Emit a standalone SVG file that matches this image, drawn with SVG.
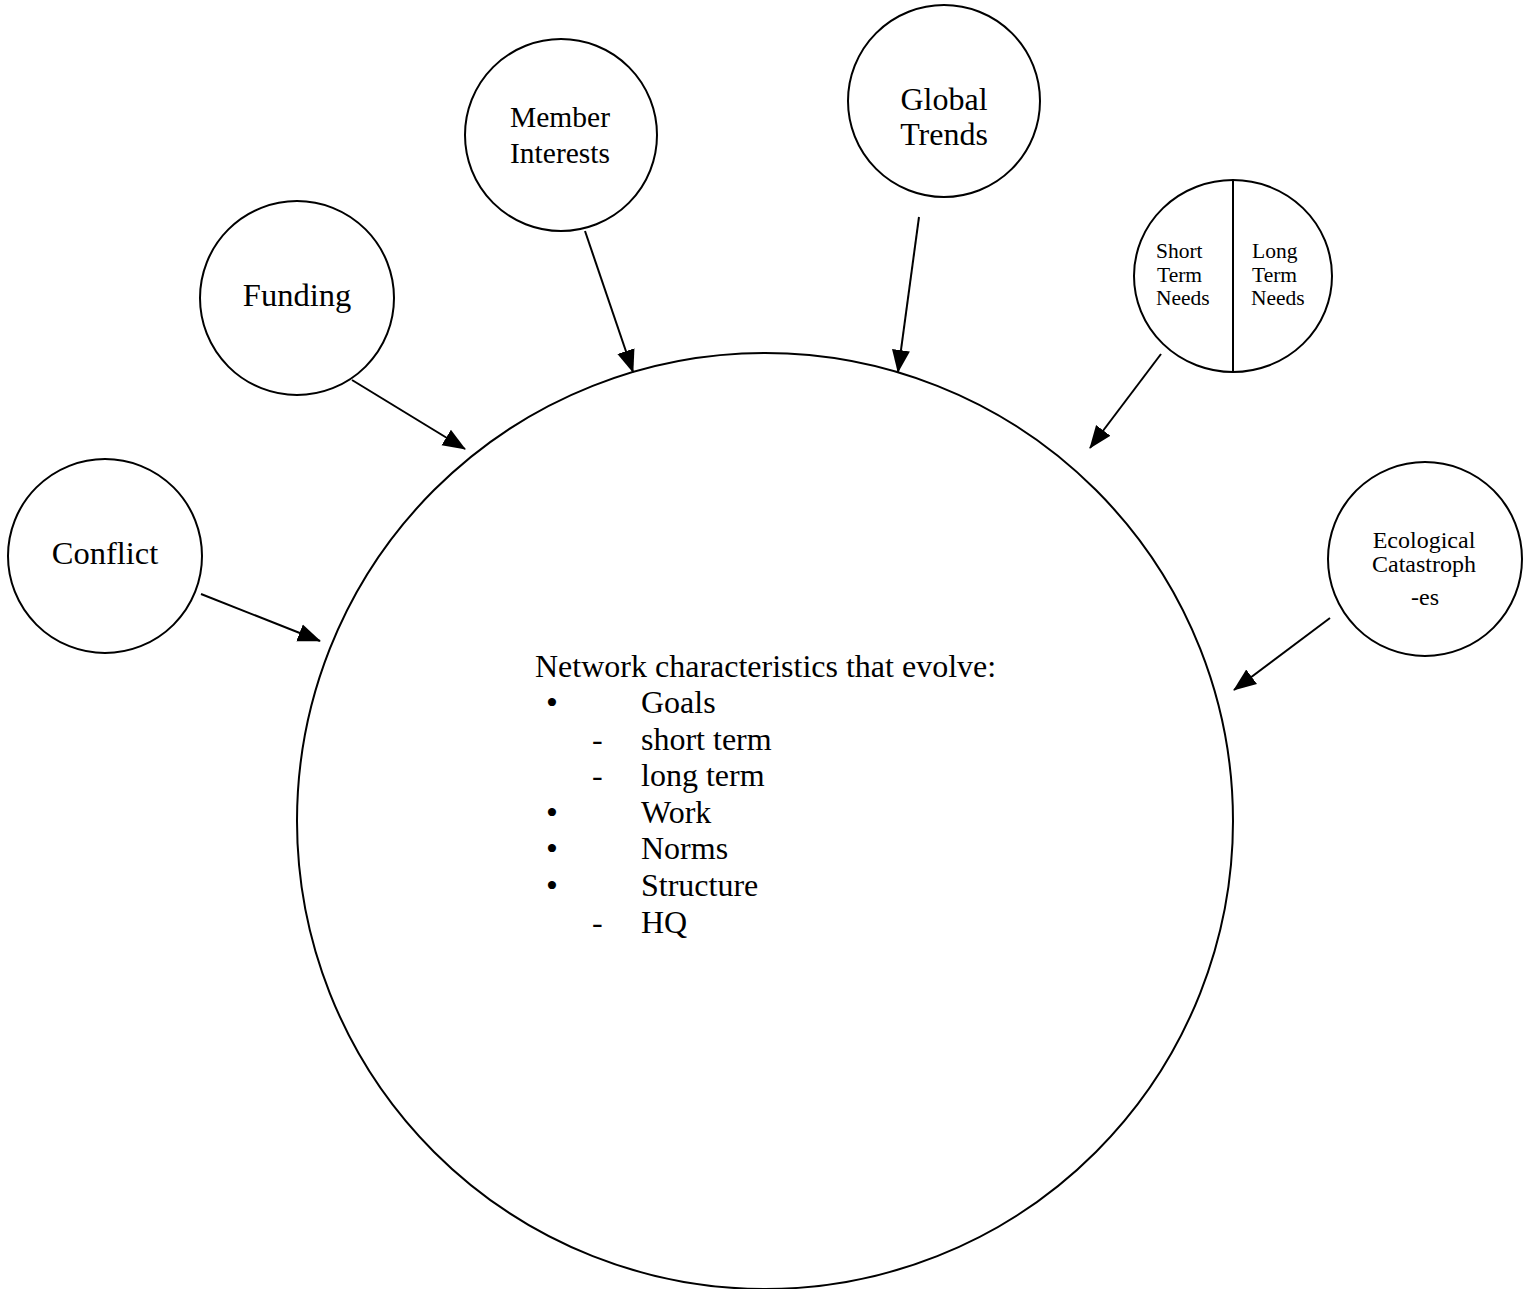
<svg xmlns="http://www.w3.org/2000/svg" width="1533" height="1289" viewBox="0 0 1533 1289">
<style>
  .node { fill: #fff; stroke: #000; stroke-width: 2; }
  .lbl { font-family: "Liberation Serif", "Times New Roman", serif; fill: #000; text-anchor: middle; }
  .lft { font-family: "Liberation Serif", "Times New Roman", serif; fill: #000; font-size: 21.5px; }
  .conn { stroke: #000; stroke-width: 2; fill: none; marker-end: url(#arrow); }
  .list { font-family: "Liberation Serif", "Times New Roman", serif; font-size: 32px; fill: #000; }
  .bul { font-family: "Liberation Serif", "Times New Roman", serif; font-size: 34px; fill: #000; text-anchor: middle; }
</style>
<defs>
  <marker id="arrow" markerUnits="userSpaceOnUse" markerWidth="24" markerHeight="20" viewBox="0 0 24 20" refX="22" refY="10" orient="auto">
    <path d="M0,1 L23,10 L0,19 Z" fill="#000"/>
  </marker>
</defs>
<rect width="1533" height="1289" fill="#fff"/>

<g id="network">
  <circle class="node" cx="765" cy="821" r="468"/>
  <text class="list" x="535" y="677">Network characteristics that evolve:</text>
  <text class="bul" x="552" y="713.5">•</text><text class="list" x="641" y="713">Goals</text>
  <text class="list" x="592" y="750">-</text><text class="list" x="641" y="750">short term</text>
  <text class="list" x="592" y="786">-</text><text class="list" x="641" y="786">long term</text>
  <text class="bul" x="552" y="823.5">•</text><text class="list" x="641" y="823">Work</text>
  <text class="bul" x="552" y="859.5">•</text><text class="list" x="641" y="859">Norms</text>
  <text class="bul" x="552" y="896.5">•</text><text class="list" x="641" y="896">Structure</text>
  <text class="list" x="592" y="933">-</text><text class="list" x="641" y="933">HQ</text>
</g>

<g id="conflict">
  <circle class="node" cx="105" cy="556" r="97"/>
  <text class="lbl" x="105" y="564" font-size="32.5">Conflict</text>
</g>

<g id="funding">
  <circle class="node" cx="297" cy="298" r="97"/>
  <text class="lbl" x="297" y="306" font-size="32.5">Funding</text>
</g>

<g id="member-interests">
  <circle class="node" cx="561" cy="135" r="96"/>
  <text class="lbl" x="560" y="127" font-size="29.5">Member</text>
  <text class="lbl" x="560" y="163" font-size="29.5">Interests</text>
</g>

<g id="global-trends">
  <circle class="node" cx="944" cy="101" r="96"/>
  <text class="lbl" x="944" y="110" font-size="32">Global</text>
  <text class="lbl" x="944" y="145" font-size="32">Trends</text>
</g>

<g id="needs">
  <ellipse class="node" cx="1233" cy="276" rx="99" ry="96"/>
  <line x1="1233" y1="180" x2="1233" y2="372" stroke="#000" stroke-width="2"/>
  <text class="lft" x="1156" y="258">Short</text>
  <text class="lft" x="1157" y="282">Term</text>
  <text class="lft" x="1156" y="305">Needs</text>
  <text class="lft" x="1252" y="258">Long</text>
  <text class="lft" x="1252" y="282">Term</text>
  <text class="lft" x="1251" y="305">Needs</text>
</g>

<g id="ecological-catastrophes">
  <circle class="node" cx="1425" cy="559" r="97"/>
  <text class="lbl" x="1424" y="548" font-size="24">Ecological</text>
  <text class="lbl" x="1424" y="572" font-size="24">Catastroph</text>
  <text class="lbl" x="1425" y="605" font-size="24">-es</text>
</g>

<g id="connectors">
  <line class="conn" x1="201" y1="594" x2="320" y2="641"/>
  <line class="conn" x1="352" y1="380" x2="465" y2="449"/>
  <line class="conn" x1="585" y1="231" x2="633" y2="372"/>
  <line class="conn" x1="919" y1="217" x2="898" y2="372"/>
  <line class="conn" x1="1161" y1="354" x2="1090" y2="448"/>
  <line class="conn" x1="1330" y1="618" x2="1234" y2="690"/>
</g>
</svg>
